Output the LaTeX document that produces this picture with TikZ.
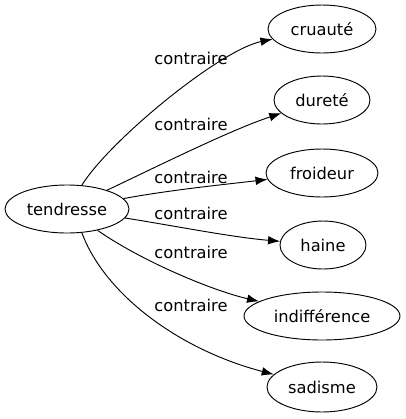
\documentclass[tikz,border=0pt]{standalone}
\usepackage{fontspec}
\setmainfont{DejaVu Sans}
\usetikzlibrary{shapes.geometric,arrows.meta}
\begin{document}
\begin{tikzpicture}[x=0.75pt,y=-0.75pt,
  every node/.style={font=\fontsize{12.2}{14}\selectfont},
  term/.style={draw, ellipse, line width=0.7pt, inner sep=0pt, minimum height=36pt},
  lbl/.style={inner sep=0pt},
  rel/.style={draw, line width=0.7pt, -{Latex[length=9pt,width=6.5pt]}}]
\useasboundingbox (0,0) rectangle (406,419);
\node[term, minimum width=93pt] (t) at (67,209) {tendresse};
\node[term, minimum width=81pt] (n1) at (322,29) {cruauté};
\node[term, minimum width=72pt] (n2) at (322,100) {dureté};
\node[term, minimum width=84pt] (n3) at (322,173) {froideur};
\node[term, minimum width=64.5pt] (n4) at (323,245) {haine};
\node[term, minimum width=117pt] (n5) at (322,316) {indifférence};
\node[term, minimum width=82.5pt, minimum height=37.5pt] (n6) at (322,387) {sadisme};
\draw[rel] (t) .. controls (110,140) and (220,50) .. (n1);
\draw[rel] (t) .. controls (150,170) and (230,130) .. (n2);
\draw[rel] (t) .. controls (170,190) and (220,185) .. (n3);
\draw[rel] (t) .. controls (170,225) and (230,237) .. (n4);
\draw[rel] (t) .. controls (140,260) and (210,290) .. (n5);
\draw[rel] (t.-58) .. controls (105,295) and (180,350) .. (n6);
\node[lbl] (l1) at (191,58) {contraire};
\node[lbl] (l2) at (191,124) {contraire};
\node[lbl] (l3) at (191,177) {contraire};
\node[lbl] (l4) at (191,213) {contraire};
\node[lbl] (l5) at (191,252) {contraire};
\node[lbl] (l6) at (191,305) {contraire};
\end{tikzpicture}
\end{document}
